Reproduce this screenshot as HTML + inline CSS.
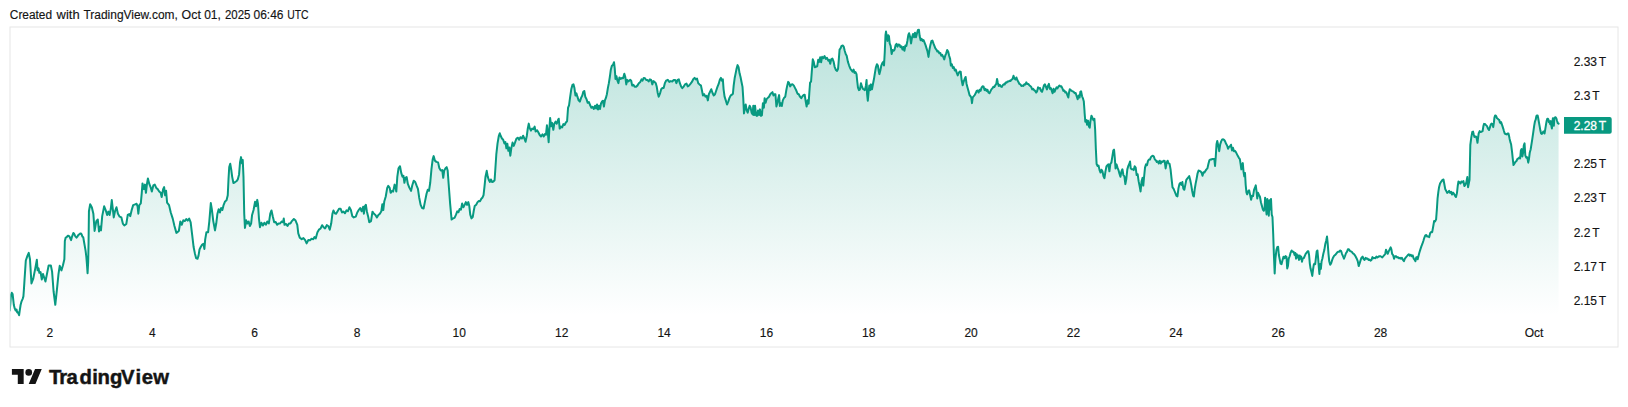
<!DOCTYPE html>
<html lang="en">
<head>
<meta charset="utf-8">
<title>TradingView Chart</title>
<style>
html,body{margin:0;padding:0;background:#fff;}
body{width:1628px;height:407px;overflow:hidden;position:relative;font-family:"Liberation Sans",Arial,sans-serif;}
svg{position:absolute;left:0;top:0;display:block}
.hdr{font-size:12px;fill:#141414;stroke:#141414;stroke-width:0.15px;}
.ax{font-size:12px;fill:#141414;stroke:#141414;stroke-width:0.15px;}
.badge{font-size:12px;fill:#fff;stroke:#fff;stroke-width:0.3px;}
.logo{font-size:20.3px;font-weight:700;fill:#141414;stroke:#141414;stroke-width:0.45px;}
</style>
</head>
<body>
<svg width="1628" height="407" viewBox="0 0 1628 407" font-family="Liberation Sans, Arial, sans-serif">
<defs>
<linearGradient id="g" gradientUnits="userSpaceOnUse" x1="0" y1="28" x2="0" y2="316">
<stop offset="0" stop-color="#089981" stop-opacity="0.28"/>
<stop offset="1" stop-color="#089981" stop-opacity="0"/>
</linearGradient>
<clipPath id="pane"><rect x="10.4" y="27.5" width="1600" height="289.5"/></clipPath>
</defs>
<rect x="0" y="0" width="1628" height="407" fill="#ffffff"/>
<text y="18.7" class="hdr"><tspan x="9.8" textLength="42.3" lengthAdjust="spacingAndGlyphs">Created</tspan> <tspan x="56.6" textLength="23" lengthAdjust="spacingAndGlyphs">with</tspan> <tspan x="83.5" textLength="94.3" lengthAdjust="spacingAndGlyphs">TradingView.com,</tspan> <tspan x="181.6" textLength="19.3" lengthAdjust="spacingAndGlyphs">Oct</tspan> <tspan x="204.2" textLength="16.7" lengthAdjust="spacingAndGlyphs">01,</tspan> <tspan x="225" textLength="25.5" lengthAdjust="spacingAndGlyphs">2025</tspan> <tspan x="253.5" textLength="30" lengthAdjust="spacingAndGlyphs">06:46</tspan> <tspan x="287.2" textLength="21.4" lengthAdjust="spacingAndGlyphs">UTC</tspan></text>
<rect x="10" y="27" width="1608" height="320" fill="none" stroke="#e6e6e6" stroke-width="1"/>
<g clip-path="url(#pane)">
<path d="M9.77 310.54 L10.39 302.92 L11 294.57 L11.74 292.76 L12.6 293.96 L13.21 299.48 L13.83 305.01 L14.81 308.7 L15.67 310.54 L16.53 309.47 L17.14 312.38 L17.88 312.17 L18.5 313.61 L19.11 315.21 L19.72 310.54 L20.58 305.01 L21.57 301.33 L22.67 298.87 L23.41 296.41 L23.9 289.66 L24.52 279.83 L25.8 260.54 L27.52 255.63 L28.75 252.83 L29.98 259.31 L31.45 283.39 L33.17 278.97 L35.14 269.14 L36.86 259.71 L37.59 270.37 L38.57 268.31 L39.31 272.83 L40.54 272 L41.77 279.46 L43 273.96 L44.23 277.74 L45.45 281.43 L47.17 272.83 L48.65 265.45 L50.86 265.45 L52.09 271.6 L53.56 291.25 L55.28 304.77 L57 288.8 L58.48 274.05 L59.71 265.85 L61.43 270.37 L62.9 265.45 L64.37 259.31 L64.84 240.97 L65.7 237.53 L66.68 237.04 L67.67 235.81 L68.53 235.84 L69.39 236.3 L70.37 238.51 L71.11 240.11 L71.84 237.29 L72.58 235.07 L73.32 233.02 L74.05 233.6 L74.91 235.44 L75.65 236.67 L76.51 237.65 L77.37 236.67 L78.23 235.07 L79.21 234.46 L80.2 233.6 L81.06 233.51 L81.79 234.83 L82.41 236.67 L83.27 237.29 L83.88 240.97 L84.74 245.88 L85.6 250.8 L86.34 256.94 L86.95 264.31 L87.57 273.16 L88.18 261.86 L88.55 243.43 L88.94 211.25 L90.17 204.28 L91.89 207.57 L93.37 213.71 L94.59 230.91 L96.31 221.08 L97.79 219.52 L99.02 231.4 L100.25 226.4 L100.98 230.42 L102.21 216.17 L104.18 206.25 L105.65 210.02 L107.13 214.94 L108.35 211.65 L109.58 214.94 L110.81 208.8 L111.79 200.11 L112.78 208.8 L113.76 217.4 L114.99 211.25 L116.46 207.23 L117.94 213.71 L119.66 216.66 L121.38 217.4 L122.85 223.54 L124.32 225.5 L126.29 224.03 L127.76 214.94 L129.24 214.11 L130.22 216.17 L131.7 210.02 L133.17 205.11 L135.14 204.37 L136.61 203.79 L137.59 206.34 L138.33 213.71 L139.31 205.11 L140.79 203.39 L141.77 192.83 L142.51 183.4 L143.73 189.14 L144.96 184.63 L145.95 192.83 L146.93 184.23 L147.91 178.48 L149.39 184.23 L150.86 187.91 L151.84 191.6 L153.32 185.45 L154.79 184.63 L156.27 187.91 L157.74 189.14 L159.21 191.6 L160.69 192.83 L161.67 197 L163.14 189.14 L164.13 187.08 L165.11 195.28 L166.09 190.77 L167.08 202.65 L169.04 205.11 L170.76 212.48 L172.73 218.62 L174.45 226 L176.41 232.87 L178.87 230.91 L180.34 221.48 L181.82 224.77 L183.29 220.25 L184.77 221.08 L186.24 219.02 L187.71 220.59 L189.19 218.53 L190.66 222.31 L192.14 234.59 L193.61 247.03 L194.84 253.17 L196.07 258.08 L197.54 258.82 L198.53 255.63 L199.51 249.48 L200.98 246.54 L202.21 244.57 L203.44 243.74 L204.42 248.99 L205.16 239.66 L206.39 232.29 L208.11 232.14 L209.34 221.08 L210.81 203.05 L211.79 208.8 L213.27 221.08 L214.99 230.42 L216.22 223.54 L217.44 213.71 L218.67 209.2 L219.9 212.48 L221.13 207.97 L222.36 210.02 L223.59 205.11 L225.06 201.43 L226.54 200.2 L227.76 195.28 L228.5 179.31 L229.24 167.03 L230.22 163.74 L231.2 169.48 L232.19 176.86 L233.42 183 L234.89 182.26 L236.36 181.28 L237.84 179.31 L239.07 174.4 L240.05 162.11 L241.03 157.11 L242.01 163.34 L242.75 160.06 L243.49 176.86 L244.23 213.71 L244.96 227.96 L246.19 220.25 L247.42 223.54 L248.65 221.48 L249.88 226 L251.11 223.54 L252.09 214.94 L253.56 210.02 L255.04 201.83 L256.02 206.34 L257.25 199.86 L257.99 203.88 L258.97 218.62 L259.95 227.22 L261.43 222.71 L262.9 225.5 L264.37 222.71 L265.85 224.77 L267.32 221.48 L268.8 223.54 L270.27 213.71 L271.5 210.42 L272.73 216.17 L274.2 222.31 L275.68 221.97 L277.15 224.77 L278.62 223.45 L280.1 223.54 L281.57 221.48 L283.05 222.31 L283.78 218.53 L284.52 224.77 L286 223.94 L287.47 226 L288.94 223.45 L290.42 223.54 L291.89 221.08 L293.86 219.02 L295.58 220.59 L297.3 224.77 L298.28 233.37 L299.75 237.69 L301.72 239.16 L303.44 238.09 L305.16 240.15 L306.63 243.34 L308.35 240.06 L310.07 240.15 L311.55 238.83 L313.27 239.16 L314.5 237.11 L315.72 238.43 L317.44 232.29 L318.92 229.68 L320.64 228.45 L322.11 225.17 L323.59 227.22 L325.06 228.45 L326.78 225.17 L328.26 226 L329.73 229.68 L331.2 223.54 L332.43 213.71 L333.42 210.42 L334.64 213.22 L336.12 213.71 L337.59 211.25 L339.07 208.8 L340.54 208.7 L342.01 212.48 L343.49 211.65 L344.96 213.22 L346.44 210.42 L347.91 211.25 L349.39 207.23 L350.86 210.02 L352.33 216.17 L353.81 217.4 L355.77 216.66 L357.25 212.48 L358.72 210.02 L360.2 207.97 L361.67 211.25 L363.14 206.74 L363.88 213.71 L364.86 206.34 L365.85 204.77 L366.83 211.25 L368.06 216.17 L369.29 222.31 L371.01 221.08 L372.48 211.65 L373.96 213.71 L375.43 214.94 L376.9 217.4 L378.38 214.94 L379.85 213.71 L381.33 211.25 L382.31 204.28 L383.29 210.02 L384.28 201.43 L385.75 196.51 L387.22 187.91 L388.21 185.85 L389.68 187.91 L390.66 192.83 L392.14 190.77 L393.12 191.6 L394.59 184.63 L395.58 187.91 L396.31 191.6 L397.3 176.86 L398.53 168.26 L400 166.2 L401.23 172.91 L402.46 176.6 L403.44 175.77 L404.42 182.74 L405.41 177.83 L406.63 177 L407.86 183.97 L409.34 187.65 L411.06 190.85 L412.29 185.2 L413.76 180.68 L415.23 182 L416.71 185.93 L417.94 188.88 L419.16 197.48 L420.64 204.85 L422.11 208.05 L423.59 208.54 L425.06 201.17 L426.54 193.8 L427.76 189.77 L428.99 190.85 L430.22 182.74 L431.45 169.23 L432.68 159.4 L433.66 156.11 L434.89 160.63 L436.36 161.86 L438.08 162.35 L439.31 168 L440.79 170.45 L442.26 170.12 L443.24 177.83 L444.23 170.45 L445.7 168 L446.68 167.17 L447.67 170.45 L448.65 183.97 L450.12 203.62 L451.6 219.59 L453.07 218.37 L454.55 217.87 L456.02 214.68 L457.25 211.4 L458.48 212.22 L459.71 208.94 L460.93 209.77 L462.16 203.53 L463.39 207.31 L464.62 204.85 L465.85 202.06 L467.08 204.85 L468.3 202.06 L469.29 206.08 L470.27 214.68 L471.5 218.37 L472.73 217.14 L473.71 211 L474.69 206.08 L476.17 204.85 L477.4 202.4 L478.62 201.08 L480.1 201.17 L481.33 198.71 L482.56 197.48 L483.54 195.02 L484.52 186.43 L485.5 176.6 L486.73 170.85 L487.71 176.6 L488.94 180.28 L489.93 182 L490.91 179.45 L492.14 182 L493.37 181.51 L494.59 180.28 L495.33 169.23 L496.31 154.48 L497.54 143.43 L498.77 136.06 L499.75 133.26 L500.74 136.06 L501.97 138.51 L503.19 139.74 L504.42 143.43 L505.41 142.11 L506.39 148.34 L507.37 143.83 L508.35 150.8 L509.34 147.51 L510.32 155.71 L511.3 148.34 L512.53 142.6 L513.76 145.88 L514.99 142.69 L516.46 138.51 L517.94 137.69 L519.16 139.74 L520.39 137.19 L521.87 138.51 L523.1 135.72 L524.32 138.51 L525.55 141.71 L526.78 136 L527.76 128.62 L528.75 123.62 L529.73 128.13 L530.96 130.59 L532.19 128.53 L533.42 129.12 L534.64 126.57 L535.63 131.57 L537.1 130.25 L538.33 132.31 L539.56 134.77 L541.03 136.49 L542.51 134.43 L543.73 136.49 L544.96 133.94 L545.95 134.77 L546.93 125.34 L547.91 133.54 L548.65 142.14 L549.39 128.62 L550.12 117.97 L551.11 126.17 L552.09 122.88 L553.32 129.85 L554.3 123.71 L555.53 121.65 L556.76 123.71 L557.99 120.02 L558.72 118.7 L559.71 128.62 L560.93 126.57 L562.16 127.4 L563.39 124.11 L564.62 124.94 L565.85 122.48 L567.08 121.25 L568.06 107.74 L569.04 105.28 L570.02 97.91 L571.25 89.31 L572.48 84.89 L573.46 84.31 L574.45 88.08 L575.43 95.45 L576.41 93.4 L577.4 96.68 L578.62 100.37 L579.85 101.6 L581.08 97.91 L582.31 95.45 L583.29 91.77 L584.28 90.94 L585.26 96.68 L586.49 99.14 L587.71 102.83 L588.94 102 L590.17 105.28 L591.4 107.74 L592.63 106.91 L593.86 108.97 L595.09 105.68 L596.07 108.48 L597.05 104.45 L598.03 109.46 L599.02 105.68 L600 108.97 L600.98 103.56 L601.97 101.6 L602.95 100.77 L603.93 106.51 L604.91 100.37 L605.9 97.91 L606.88 94.23 L607.86 88.08 L608.85 83.17 L609.83 77.03 L610.81 69.66 L611.79 65.97 L613.02 64.74 L614 62.19 L614.74 68.43 L615.48 78.99 L616.46 76.2 L617.44 80.71 L618.43 83.17 L619.41 77.43 L620.64 78.99 L621.87 77.92 L623.1 78.26 L624.32 73.74 L625.31 77.03 L626.29 84.4 L627.27 79.88 L628.26 81.45 L629.24 80.71 L630.22 79.88 L631.2 80.71 L632.19 85.63 L633.42 84.8 L634.64 86.86 L635.87 86.86 L637.35 85.63 L638.82 83.17 L640.29 81.94 L641.52 79.39 L642.51 80.71 L643.73 77.92 L644.96 78.26 L646.19 79.98 L647.42 79.88 L648.65 81.45 L649.88 79.39 L651.11 79.98 L652.33 84.4 L653.32 81.11 L654.55 81.94 L655.77 83.17 L656.76 86.86 L657.74 93 L658.72 96.68 L659.95 93.73 L661.18 89.31 L662.41 88.08 L663.64 88.08 L664.86 83.17 L666.09 80.71 L667.81 79.88 L669.29 81.94 L670.76 81.11 L672.24 81.45 L673.71 79.98 L675.18 79.88 L676.41 83.17 L677.64 79.98 L678.87 79.39 L679.85 83.17 L681.08 86.36 L682.31 88.08 L683.54 86.86 L685.01 84.4 L686.49 83.57 L687.71 86.36 L688.94 85.63 L690.42 83.91 L691.89 81.94 L693.37 78.99 L694.59 77.92 L695.82 79.48 L697.05 78.66 L698.28 83.17 L699.51 84.4 L700.98 85.63 L701.97 90.54 L702.95 95.45 L704.18 94.13 L705.41 96.68 L706.63 95.85 L707.86 100.37 L708.85 94.23 L710.07 91.77 L711.3 89.22 L712.53 93 L713.76 95.45 L714.99 94.23 L716.22 90.54 L717.44 86.86 L718.67 83.91 L719.9 79.48 L720.88 77.92 L721.87 80.71 L722.85 79.39 L723.59 89.31 L724.57 96.68 L725.8 100.37 L727.03 104.55 L728.26 101.6 L729.48 97.91 L730.71 95.45 L731.94 94.72 L732.92 93.73 L733.66 85.63 L734.64 78.26 L735.63 73.34 L736.61 68.43 L737.59 65.14 L738.57 67.2 L739.56 73.34 L740.54 77.03 L741.52 81.94 L742.51 86.86 L743.24 97.91 L743.98 113.39 L744.96 107.74 L745.7 104.45 L746.68 110.2 L747.67 112.65 L748.65 108.97 L749.63 105.68 L750.61 107.74 L751.6 112.65 L752.58 114.37 L753.32 105.68 L754.05 115.11 L755.04 105.68 L756.02 115.11 L757 115.85 L757.99 110.6 L758.97 115.11 L759.95 109.37 L760.93 115.85 L761.92 115.11 L762.9 103.23 L763.88 107.74 L764.62 98.31 L765.6 102.83 L766.58 99.14 L767.81 97.91 L769.04 96.68 L770.27 94.23 L771.5 93 L772.48 92.17 L773.46 95.45 L774.45 94.13 L775.43 94.23 L776.41 106.51 L777.4 102.83 L778.38 97.91 L779.12 95.12 L779.85 106.02 L780.84 103.23 L781.82 106.02 L782.8 100.37 L784.03 97.91 L785.26 96.68 L786.24 90.54 L787.22 85.63 L788.21 81.85 L789.19 83.17 L790.17 86.36 L791.4 84.4 L792.63 84.31 L793.86 85.63 L795.09 88.08 L796.31 90.54 L797.54 93.73 L798.77 94.23 L800 96.68 L801.23 98.22 L802.46 96.25 L803.69 95.02 L804.67 94.69 L805.65 101.17 L806.63 106.57 L807.62 100.34 L808.6 103.62 L809.34 92.57 L810.07 82.74 L811.06 81.51 L811.79 71.68 L812.78 59.31 L813.76 61.86 L814.74 67.26 L815.97 66.77 L817.2 66.28 L818.18 59.8 L819.16 61.86 L820.15 57.34 L821.13 62.35 L822.11 56.85 L823.34 58.17 L824.57 56.11 L825.8 58.91 L827.03 57.83 L828.26 60.63 L829.24 59.8 L830.22 63.82 L831.2 59.4 L832.43 58.57 L833.66 61.86 L834.64 66.77 L835.87 69.96 L837.1 70.95 L838.08 68.73 L838.82 59.4 L839.56 49.57 L840.54 48.34 L841.52 45.88 L842.75 45.55 L843.73 46.62 L844.72 50.8 L845.7 53.99 L846.68 55.71 L847.91 61.86 L849.14 65.54 L850.37 68.73 L851.6 70.45 L852.58 71.68 L853.56 69.63 L854.55 72.91 L855.53 72.08 L856.51 74.14 L857.25 81.51 L857.99 87.65 L858.97 90.11 L859.95 89.37 L860.93 83.14 L861.92 86.43 L862.9 88.88 L863.88 89.37 L864.86 90.11 L865.85 85.93 L866.58 79.95 L867.08 93.8 L867.81 100.68 L868.55 92.57 L869.29 85.6 L870.27 90.11 L871.01 84.37 L871.99 89.37 L872.97 83.97 L873.96 79.05 L874.94 72.91 L875.92 67.26 L876.9 64.22 L877.89 65.54 L878.62 70.45 L879.36 74.14 L880.34 70.45 L881.33 65.54 L882.31 63.08 L883.29 61.76 L884.03 65.54 L884.77 52.03 L885.5 34.83 L886 31.54 L886.73 36.06 L887.47 40.97 L888.21 35.23 L888.94 36.06 L889.68 43.43 L890.66 45.88 L891.65 53.99 L892.63 49.97 L893.61 50.8 L894.59 49.57 L895.58 45.15 L896.56 43.83 L897.54 46.62 L898.53 44.56 L899.51 44.66 L900.49 47.11 L901.47 46.28 L902.46 49.57 L903.44 47.02 L904.42 50.8 L905.41 45.55 L906.39 45.88 L907.37 40.97 L908.35 34.83 L909.09 33.26 L910.07 36.79 L911.06 43.43 L912.04 37.29 L913.02 34 L914 37.29 L914.99 32.77 L915.97 37.29 L916.95 33.6 L917.94 29.91 L918.92 29.82 L919.66 36.06 L920.64 40.23 L921.62 38.91 L922.6 40.97 L923.59 40.14 L924.57 42.69 L925.55 45.15 L926.54 48.34 L927.52 51.54 L928.5 56.94 L929.48 49.57 L930.47 44.66 L931.45 40.97 L932.43 40.63 L933.42 43.43 L934.4 45.88 L935.38 48.34 L936.36 49.57 L937.35 51.54 L938.33 51.2 L939.31 53.26 L940.29 52.92 L941.28 55.71 L942.26 54.88 L943.24 56.94 L944.23 59.4 L945.21 55.71 L946.19 53.26 L947.17 49.97 L948.16 51.54 L949.14 55.71 L950.12 58.91 L950.86 65.54 L951.84 64.22 L952.83 68 L953.81 67.17 L954.79 70.45 L955.77 69.63 L956.76 72.91 L957.74 75.37 L958.72 72.91 L959.71 71.59 L960.69 71.68 L961.67 80.28 L962.65 85.2 L963.64 81.51 L964.62 79.05 L965.6 77 L966.58 83.97 L967.57 87.65 L968.55 91.34 L969.53 95.02 L970.52 96.25 L971.25 97.48 L971.99 103.13 L972.73 97.48 L973.71 96.25 L974.69 95.02 L975.68 93.3 L976.66 90.85 L977.64 90.51 L978.62 92.57 L979.61 89.77 L980.59 90.85 L981.57 87.65 L982.56 86.33 L983.54 86.43 L984.52 90.11 L985.5 88.79 L986.49 90.85 L987.47 89.77 L988.45 92.57 L989.43 93.3 L990.42 91.34 L991.4 89.37 L992.38 88.39 L993.37 86.83 L994.35 86.92 L995.33 85.2 L996.31 83.97 L997.05 78.96 L997.79 82.74 L998.77 85.93 L999.75 84.86 L1000.74 86.43 L1001.72 86.92 L1002.7 85.2 L1003.69 84.37 L1004.67 84.46 L1005.65 82.4 L1006.63 82.74 L1007.62 81.42 L1008.6 81.51 L1009.58 80.68 L1010.57 81.02 L1011.55 79.55 L1012.53 79.05 L1013.51 75.77 L1014.5 78.56 L1015.48 79.55 L1016.46 77.49 L1017.44 80.28 L1018.43 82 L1019.41 83.97 L1020.39 84.46 L1021.38 85.93 L1022.36 85.6 L1023.34 85.93 L1024.32 84.37 L1025.31 84.46 L1026.29 82.4 L1027.27 83.97 L1028.26 83.88 L1029.24 85.2 L1030.22 85.93 L1031.2 86.92 L1032.19 89.37 L1033.17 88.79 L1034.15 90.11 L1035.14 90.85 L1036.12 92.57 L1037.1 91.34 L1038.08 87.32 L1039.07 88.39 L1040.05 88.05 L1041.03 90.85 L1042.01 91.83 L1043 88.88 L1043.98 85.2 L1044.96 84.37 L1045.95 86.92 L1046.93 89.37 L1047.91 85.93 L1048.89 83.88 L1049.88 88.88 L1050.86 88.05 L1051.84 90.85 L1052.58 93.3 L1053.56 88.79 L1054.55 91.83 L1055.53 89.37 L1056.51 87.32 L1057.49 88.39 L1058.48 86.43 L1059.46 85.6 L1060.44 86.43 L1061.43 86.33 L1062.41 88.39 L1063.39 90.85 L1064.37 90.51 L1065.36 92.57 L1066.34 92.23 L1067.32 95.02 L1068.3 97.48 L1069.04 92.57 L1069.78 89.28 L1070.76 90.11 L1071.74 90.85 L1072.73 91.34 L1073.71 91.83 L1074.69 93.3 L1075.68 92.97 L1076.66 96.25 L1077.64 99.2 L1078.62 95.42 L1079.61 97.48 L1080.34 91.83 L1081.08 91.25 L1082.06 96.25 L1083.05 98.71 L1083.78 101.17 L1084.52 111 L1084.57 112.37 L1085.31 121.71 L1086.29 120.14 L1087.03 124.66 L1088.01 120.63 L1088.99 126.62 L1089.73 127.6 L1090.47 120.97 L1091.45 115.72 L1092.43 117.78 L1093.42 120.23 L1094.4 118.91 L1095.14 129.57 L1095.87 149.23 L1096.61 163.97 L1097.59 165.93 L1098.57 165.6 L1099.56 170.11 L1100.54 172.57 L1101.52 169.77 L1102.51 171.34 L1103.49 176.25 L1104.47 178.22 L1105.45 171.34 L1106.44 166.43 L1107.42 165.2 L1108.4 164.37 L1109.39 171.34 L1110.37 163.97 L1111.35 162.74 L1112.33 156.6 L1113.32 150.45 L1114.05 149.63 L1114.79 157.83 L1115.53 168.39 L1116.51 164.37 L1117.49 167.65 L1118.48 170.11 L1119.46 173.8 L1120.44 176.74 L1121.43 171.34 L1122.41 169.28 L1123.39 175.02 L1124.37 176.25 L1125.36 184.12 L1126.34 178.71 L1127.32 169.37 L1128.3 165.93 L1129.29 163.97 L1130.02 161.42 L1130.76 168.39 L1131.74 169.37 L1132.73 169.28 L1133.71 170.11 L1134.69 166.33 L1135.68 167.65 L1136.66 175.02 L1137.64 174.2 L1138.62 181.17 L1139.61 186.08 L1140.59 191.49 L1141.57 181.17 L1142.56 177.88 L1143.29 185.59 L1144.03 177.48 L1145.01 167.65 L1146 164.37 L1146.98 165.2 L1147.96 161.02 L1148.94 159.45 L1149.93 159.55 L1150.91 157.09 L1151.89 156.11 L1152.87 155.77 L1153.86 156.6 L1154.84 159.55 L1155.82 160.28 L1156.81 162 L1157.79 161.42 L1158.77 163.48 L1159.75 160.68 L1160.74 163.48 L1161.72 161.42 L1162.7 162 L1163.69 160.68 L1164.67 161.02 L1165.65 168.39 L1166.63 162.74 L1167.62 160.68 L1168.6 163.48 L1169.58 163.97 L1170.57 169.37 L1171.55 178.71 L1172.53 187.31 L1173.51 188.54 L1174.5 191 L1175.48 193.45 L1176.46 195.91 L1177.44 196.4 L1178.43 188.54 L1179.41 184.12 L1180.39 182.8 L1181.38 184.85 L1182.36 182.06 L1183.34 188.54 L1184.32 189.77 L1185.31 184.85 L1186.29 179.94 L1187.27 178.71 L1188.26 177.48 L1189.24 176.16 L1190.22 179.94 L1191.2 184.85 L1192.19 191 L1193.17 195.91 L1193.91 196.4 L1194.64 189.77 L1195.63 183.62 L1196.61 178.71 L1197.59 173.3 L1198.57 170.51 L1199.56 170.85 L1200.54 171.34 L1201.52 172.57 L1202.51 175.76 L1203.49 172.23 L1204.47 172.57 L1205.45 170.85 L1206.44 169.37 L1207.42 168.39 L1208.4 163.97 L1209.39 160.28 L1210.37 159.45 L1211.35 159.55 L1212.33 158.96 L1213.32 159.05 L1214.3 158.96 L1215.04 165.93 L1215.77 156.6 L1216.51 144.31 L1217.25 141.03 L1218.23 145.54 L1219.21 151.19 L1220.2 144.31 L1221.18 141.36 L1222.16 139.4 L1223.14 139.31 L1224.13 139.89 L1225.11 141.36 L1226.09 143.82 L1227.08 145.54 L1228.06 148.73 L1229.04 146.77 L1230.02 146.28 L1231.01 144.71 L1231.99 150.45 L1232.97 147.66 L1233.96 151.19 L1234.94 150.85 L1235.92 152.17 L1236.9 154.14 L1237.89 156.11 L1238.87 157.83 L1239.85 159.05 L1240.59 163.97 L1241.33 169.37 L1242.06 165.2 L1242.8 163.14 L1243.54 171.83 L1244.28 176.25 L1245.01 172.97 L1245.69 185 L1246.43 192.37 L1247.16 194.34 L1248.15 191.14 L1249.13 190.31 L1250.11 194.83 L1251.1 199.74 L1252.08 195.72 L1253.06 196.06 L1254.04 189.91 L1255.03 187.46 L1255.76 185.4 L1256.5 191.14 L1257.24 198.51 L1257.98 192.77 L1258.96 194.83 L1259.94 196.79 L1260.92 202.2 L1261.91 205.88 L1262.89 209.57 L1263.87 210.8 L1264.61 208.34 L1265.1 197.69 L1265.84 207.11 L1266.57 214.48 L1267.31 198.91 L1268.05 203.43 L1268.79 215.71 L1269.52 200.14 L1270.26 209.57 L1271 198.91 L1271.73 214.48 L1272.47 216.94 L1273.21 234.14 L1273.95 256.25 L1274.68 273.45 L1275.42 258.71 L1276.4 250.11 L1277.39 246.92 L1278.12 246.83 L1278.86 255.02 L1279.6 258.71 L1280.58 263.62 L1281.56 264.12 L1282.55 259.94 L1283.53 256.65 L1284.51 258.22 L1285.49 256.16 L1286.48 256.74 L1287.21 268.54 L1287.95 266.08 L1288.69 258.71 L1289.67 256.25 L1290.65 252.57 L1291.64 250.51 L1292.62 251.83 L1293.6 251.74 L1294.58 255.02 L1295.32 252.97 L1296.06 258.71 L1296.8 254.2 L1297.53 257.48 L1298.27 255.42 L1299.01 259.94 L1299.74 255.42 L1300.48 258.71 L1301.22 256.65 L1301.96 261.66 L1302.69 258.71 L1303.68 258.22 L1304.66 256.25 L1305.64 253.8 L1306.62 252.57 L1307.61 251.34 L1308.34 251.25 L1309.08 255.02 L1309.82 263.62 L1310.56 268.54 L1311.54 272.22 L1312.28 275.91 L1313.01 269.77 L1313.75 264.85 L1314.49 263.53 L1315.22 264.12 L1315.96 257.48 L1316.7 251.34 L1317.43 250.51 L1318.17 258.71 L1318.91 268.54 L1319.4 273.94 L1320.14 264.02 L1320.87 269.03 L1321.61 261.17 L1322.35 258.71 L1323.33 253.8 L1324.31 250.11 L1325.3 243.97 L1326.28 240.28 L1327.02 236.51 L1327.75 243.97 L1328.49 253.8 L1329.23 261.17 L1330.21 264.85 L1331.19 263.13 L1332.18 259.94 L1333.16 257.48 L1334.14 255.76 L1335.13 255.02 L1336.11 253.8 L1337.09 252.57 L1338.07 251.74 L1339.06 251.83 L1340.04 250.51 L1341.02 250.85 L1342 253.8 L1342.99 256.25 L1343.97 258.71 L1344.95 256.25 L1345.94 253.3 L1346.92 251.83 L1347.9 249.37 L1348.88 249.28 L1349.87 250.85 L1350.85 251.34 L1351.83 251.83 L1352.82 253.3 L1353.8 253.8 L1354.78 255.02 L1355.76 256.74 L1356.75 258.71 L1357.73 261.17 L1358.71 266.08 L1359.7 263.13 L1360.68 259.94 L1361.66 257.48 L1362.64 256.65 L1363.63 259.2 L1364.61 259.94 L1365.59 257.88 L1366.57 258.71 L1367.56 258.62 L1368.54 259.94 L1369.52 259.6 L1370.51 260.68 L1371.49 259.94 L1372.47 257.14 L1373.45 258.22 L1374.44 257.88 L1375.42 258.22 L1376.4 256.65 L1377.39 257.48 L1378.37 256.74 L1379.35 256.25 L1380.33 256.16 L1381.32 256.74 L1382.3 257.48 L1383.28 256.25 L1384.27 255.02 L1385.25 253.8 L1385.99 249.77 L1386.72 251.34 L1387.71 253.8 L1388.69 251.34 L1389.67 249.37 L1390.65 247.32 L1391.39 249.37 L1392.13 253.8 L1393.11 255.02 L1394.09 258.71 L1395.08 256.25 L1396.06 256.16 L1397.04 257.48 L1398.02 257.14 L1399.01 258.22 L1399.99 257.88 L1400.97 258.71 L1401.96 257.88 L1402.94 259.94 L1403.92 261.17 L1404.9 258.71 L1405.89 257.48 L1406.87 256.25 L1407.85 255.02 L1408.84 254.2 L1409.82 255.76 L1410.8 254.69 L1411.78 256.25 L1412.77 255.42 L1413.75 258.71 L1414.73 259.94 L1415.47 261.17 L1416.21 257.48 L1416.94 257.14 L1417.68 259.2 L1418.42 256.25 L1419.4 252.57 L1420.38 249.37 L1421.37 246.43 L1422.35 243.97 L1423.33 241.02 L1424.31 237.83 L1425.3 235.37 L1426.28 235.03 L1427.26 236.6 L1428.25 236.51 L1429.23 237.09 L1430.21 232.91 L1431.19 232.08 L1432.18 232.17 L1433.16 226.77 L1434.14 221.03 L1435.13 221.36 L1436.11 219.4 L1436.85 209.57 L1437.58 198.28 L1438.32 192.14 L1439.06 187.22 L1440.04 183.54 L1441.27 181.57 L1442.5 179.85 L1443.48 179.52 L1444.22 183.54 L1445.2 188.94 L1446.18 190.91 L1447.16 192.87 L1448.15 192.14 L1449.13 190.82 L1450.11 192.87 L1451.1 191.8 L1452.08 194.59 L1453.06 192.54 L1454.04 193.86 L1455.03 195.82 L1456.01 197.05 L1456.99 192.87 L1457.73 186 L1458.47 181.48 L1459.45 182.31 L1460.43 183.54 L1461.42 181.48 L1462.4 182.31 L1463.38 180.99 L1464.36 186 L1465.35 184.77 L1466.33 182.31 L1467.31 177.06 L1468.05 187.22 L1468.79 183.54 L1469.52 179.85 L1470.32 145 L1471.3 137.43 L1472.29 131.93 L1473.07 131.64 L1473.76 134.48 L1474.45 136.94 L1475.53 136.45 L1476.22 136.65 L1476.9 139.4 L1477.49 142.84 L1477.99 138.42 L1478.67 133.5 L1479.66 131.15 L1480.64 132.03 L1481.62 131.54 L1482.6 131.04 L1483.39 126.13 L1484.08 123.87 L1485.06 124.07 L1486.04 125.15 L1487.03 126.13 L1488.01 128.59 L1488.99 130.06 L1489.98 127.11 L1490.96 124.16 L1491.65 123.58 L1492.43 123.87 L1493.22 127.11 L1493.91 122.69 L1494.4 117.78 L1495.09 115.42 L1495.68 115.42 L1496.36 116.6 L1497.05 118.27 L1497.84 118.76 L1498.62 119.74 L1499.31 119.94 L1499.8 122.2 L1500.49 123.18 L1501.08 122.11 L1501.77 124.16 L1502.46 126.13 L1503.24 128.59 L1503.93 131.04 L1504.72 133.5 L1505.7 133.99 L1506.68 134.48 L1507.67 133.5 L1508.45 133.41 L1508.94 135.47 L1509.63 138.91 L1510.32 141.86 L1511.11 144.31 L1512.03 151.6 L1512.77 158.97 L1513.5 165.11 L1514.49 163.39 L1515.47 161.92 L1516.45 160.93 L1517.43 158.97 L1518.42 158.48 L1519.4 157.4 L1520.14 158.48 L1520.87 150.37 L1521.61 149.05 L1522.35 156.51 L1523.09 152.83 L1523.82 145.45 L1524.56 143.4 L1525.3 155.28 L1526.28 157.74 L1527.26 157.4 L1528.25 162.65 L1528.98 158.97 L1529.72 152.83 L1530.7 149.14 L1532.24 139.4 L1533.22 132.52 L1534.2 125.64 L1534.89 121.71 L1535.68 119.74 L1536.36 116.2 L1536.95 115.42 L1537.64 115.42 L1538.13 117.78 L1538.82 121.71 L1539.61 126.13 L1540.39 130.55 L1541.08 133.5 L1541.87 133.99 L1542.56 133.01 L1543.34 131.54 L1544.03 131.44 L1544.52 133.5 L1545.21 129.57 L1546 124.66 L1546.68 120.72 L1547.27 118.66 L1547.96 118.67 L1548.45 119.74 L1548.94 122.2 L1549.63 121.62 L1550.22 124.16 L1550.91 121.12 L1551.4 126.13 L1551.89 128.59 L1552.38 123.18 L1552.87 118.27 L1553.37 119.74 L1553.86 125.64 L1554.35 118.17 L1555.04 117.29 L1555.63 117.29 L1556.31 118.27 L1557 120.72 L1557.79 123.18 L1558.57 123.67 L1558.57 316.5 L9.77 316.5 Z" fill="url(#g)" stroke="none"/>
<path d="M9.77 310.54 L10.39 302.92 L11 294.57 L11.74 292.76 L12.6 293.96 L13.21 299.48 L13.83 305.01 L14.81 308.7 L15.67 310.54 L16.53 309.47 L17.14 312.38 L17.88 312.17 L18.5 313.61 L19.11 315.21 L19.72 310.54 L20.58 305.01 L21.57 301.33 L22.67 298.87 L23.41 296.41 L23.9 289.66 L24.52 279.83 L25.8 260.54 L27.52 255.63 L28.75 252.83 L29.98 259.31 L31.45 283.39 L33.17 278.97 L35.14 269.14 L36.86 259.71 L37.59 270.37 L38.57 268.31 L39.31 272.83 L40.54 272 L41.77 279.46 L43 273.96 L44.23 277.74 L45.45 281.43 L47.17 272.83 L48.65 265.45 L50.86 265.45 L52.09 271.6 L53.56 291.25 L55.28 304.77 L57 288.8 L58.48 274.05 L59.71 265.85 L61.43 270.37 L62.9 265.45 L64.37 259.31 L64.84 240.97 L65.7 237.53 L66.68 237.04 L67.67 235.81 L68.53 235.84 L69.39 236.3 L70.37 238.51 L71.11 240.11 L71.84 237.29 L72.58 235.07 L73.32 233.02 L74.05 233.6 L74.91 235.44 L75.65 236.67 L76.51 237.65 L77.37 236.67 L78.23 235.07 L79.21 234.46 L80.2 233.6 L81.06 233.51 L81.79 234.83 L82.41 236.67 L83.27 237.29 L83.88 240.97 L84.74 245.88 L85.6 250.8 L86.34 256.94 L86.95 264.31 L87.57 273.16 L88.18 261.86 L88.55 243.43 L88.94 211.25 L90.17 204.28 L91.89 207.57 L93.37 213.71 L94.59 230.91 L96.31 221.08 L97.79 219.52 L99.02 231.4 L100.25 226.4 L100.98 230.42 L102.21 216.17 L104.18 206.25 L105.65 210.02 L107.13 214.94 L108.35 211.65 L109.58 214.94 L110.81 208.8 L111.79 200.11 L112.78 208.8 L113.76 217.4 L114.99 211.25 L116.46 207.23 L117.94 213.71 L119.66 216.66 L121.38 217.4 L122.85 223.54 L124.32 225.5 L126.29 224.03 L127.76 214.94 L129.24 214.11 L130.22 216.17 L131.7 210.02 L133.17 205.11 L135.14 204.37 L136.61 203.79 L137.59 206.34 L138.33 213.71 L139.31 205.11 L140.79 203.39 L141.77 192.83 L142.51 183.4 L143.73 189.14 L144.96 184.63 L145.95 192.83 L146.93 184.23 L147.91 178.48 L149.39 184.23 L150.86 187.91 L151.84 191.6 L153.32 185.45 L154.79 184.63 L156.27 187.91 L157.74 189.14 L159.21 191.6 L160.69 192.83 L161.67 197 L163.14 189.14 L164.13 187.08 L165.11 195.28 L166.09 190.77 L167.08 202.65 L169.04 205.11 L170.76 212.48 L172.73 218.62 L174.45 226 L176.41 232.87 L178.87 230.91 L180.34 221.48 L181.82 224.77 L183.29 220.25 L184.77 221.08 L186.24 219.02 L187.71 220.59 L189.19 218.53 L190.66 222.31 L192.14 234.59 L193.61 247.03 L194.84 253.17 L196.07 258.08 L197.54 258.82 L198.53 255.63 L199.51 249.48 L200.98 246.54 L202.21 244.57 L203.44 243.74 L204.42 248.99 L205.16 239.66 L206.39 232.29 L208.11 232.14 L209.34 221.08 L210.81 203.05 L211.79 208.8 L213.27 221.08 L214.99 230.42 L216.22 223.54 L217.44 213.71 L218.67 209.2 L219.9 212.48 L221.13 207.97 L222.36 210.02 L223.59 205.11 L225.06 201.43 L226.54 200.2 L227.76 195.28 L228.5 179.31 L229.24 167.03 L230.22 163.74 L231.2 169.48 L232.19 176.86 L233.42 183 L234.89 182.26 L236.36 181.28 L237.84 179.31 L239.07 174.4 L240.05 162.11 L241.03 157.11 L242.01 163.34 L242.75 160.06 L243.49 176.86 L244.23 213.71 L244.96 227.96 L246.19 220.25 L247.42 223.54 L248.65 221.48 L249.88 226 L251.11 223.54 L252.09 214.94 L253.56 210.02 L255.04 201.83 L256.02 206.34 L257.25 199.86 L257.99 203.88 L258.97 218.62 L259.95 227.22 L261.43 222.71 L262.9 225.5 L264.37 222.71 L265.85 224.77 L267.32 221.48 L268.8 223.54 L270.27 213.71 L271.5 210.42 L272.73 216.17 L274.2 222.31 L275.68 221.97 L277.15 224.77 L278.62 223.45 L280.1 223.54 L281.57 221.48 L283.05 222.31 L283.78 218.53 L284.52 224.77 L286 223.94 L287.47 226 L288.94 223.45 L290.42 223.54 L291.89 221.08 L293.86 219.02 L295.58 220.59 L297.3 224.77 L298.28 233.37 L299.75 237.69 L301.72 239.16 L303.44 238.09 L305.16 240.15 L306.63 243.34 L308.35 240.06 L310.07 240.15 L311.55 238.83 L313.27 239.16 L314.5 237.11 L315.72 238.43 L317.44 232.29 L318.92 229.68 L320.64 228.45 L322.11 225.17 L323.59 227.22 L325.06 228.45 L326.78 225.17 L328.26 226 L329.73 229.68 L331.2 223.54 L332.43 213.71 L333.42 210.42 L334.64 213.22 L336.12 213.71 L337.59 211.25 L339.07 208.8 L340.54 208.7 L342.01 212.48 L343.49 211.65 L344.96 213.22 L346.44 210.42 L347.91 211.25 L349.39 207.23 L350.86 210.02 L352.33 216.17 L353.81 217.4 L355.77 216.66 L357.25 212.48 L358.72 210.02 L360.2 207.97 L361.67 211.25 L363.14 206.74 L363.88 213.71 L364.86 206.34 L365.85 204.77 L366.83 211.25 L368.06 216.17 L369.29 222.31 L371.01 221.08 L372.48 211.65 L373.96 213.71 L375.43 214.94 L376.9 217.4 L378.38 214.94 L379.85 213.71 L381.33 211.25 L382.31 204.28 L383.29 210.02 L384.28 201.43 L385.75 196.51 L387.22 187.91 L388.21 185.85 L389.68 187.91 L390.66 192.83 L392.14 190.77 L393.12 191.6 L394.59 184.63 L395.58 187.91 L396.31 191.6 L397.3 176.86 L398.53 168.26 L400 166.2 L401.23 172.91 L402.46 176.6 L403.44 175.77 L404.42 182.74 L405.41 177.83 L406.63 177 L407.86 183.97 L409.34 187.65 L411.06 190.85 L412.29 185.2 L413.76 180.68 L415.23 182 L416.71 185.93 L417.94 188.88 L419.16 197.48 L420.64 204.85 L422.11 208.05 L423.59 208.54 L425.06 201.17 L426.54 193.8 L427.76 189.77 L428.99 190.85 L430.22 182.74 L431.45 169.23 L432.68 159.4 L433.66 156.11 L434.89 160.63 L436.36 161.86 L438.08 162.35 L439.31 168 L440.79 170.45 L442.26 170.12 L443.24 177.83 L444.23 170.45 L445.7 168 L446.68 167.17 L447.67 170.45 L448.65 183.97 L450.12 203.62 L451.6 219.59 L453.07 218.37 L454.55 217.87 L456.02 214.68 L457.25 211.4 L458.48 212.22 L459.71 208.94 L460.93 209.77 L462.16 203.53 L463.39 207.31 L464.62 204.85 L465.85 202.06 L467.08 204.85 L468.3 202.06 L469.29 206.08 L470.27 214.68 L471.5 218.37 L472.73 217.14 L473.71 211 L474.69 206.08 L476.17 204.85 L477.4 202.4 L478.62 201.08 L480.1 201.17 L481.33 198.71 L482.56 197.48 L483.54 195.02 L484.52 186.43 L485.5 176.6 L486.73 170.85 L487.71 176.6 L488.94 180.28 L489.93 182 L490.91 179.45 L492.14 182 L493.37 181.51 L494.59 180.28 L495.33 169.23 L496.31 154.48 L497.54 143.43 L498.77 136.06 L499.75 133.26 L500.74 136.06 L501.97 138.51 L503.19 139.74 L504.42 143.43 L505.41 142.11 L506.39 148.34 L507.37 143.83 L508.35 150.8 L509.34 147.51 L510.32 155.71 L511.3 148.34 L512.53 142.6 L513.76 145.88 L514.99 142.69 L516.46 138.51 L517.94 137.69 L519.16 139.74 L520.39 137.19 L521.87 138.51 L523.1 135.72 L524.32 138.51 L525.55 141.71 L526.78 136 L527.76 128.62 L528.75 123.62 L529.73 128.13 L530.96 130.59 L532.19 128.53 L533.42 129.12 L534.64 126.57 L535.63 131.57 L537.1 130.25 L538.33 132.31 L539.56 134.77 L541.03 136.49 L542.51 134.43 L543.73 136.49 L544.96 133.94 L545.95 134.77 L546.93 125.34 L547.91 133.54 L548.65 142.14 L549.39 128.62 L550.12 117.97 L551.11 126.17 L552.09 122.88 L553.32 129.85 L554.3 123.71 L555.53 121.65 L556.76 123.71 L557.99 120.02 L558.72 118.7 L559.71 128.62 L560.93 126.57 L562.16 127.4 L563.39 124.11 L564.62 124.94 L565.85 122.48 L567.08 121.25 L568.06 107.74 L569.04 105.28 L570.02 97.91 L571.25 89.31 L572.48 84.89 L573.46 84.31 L574.45 88.08 L575.43 95.45 L576.41 93.4 L577.4 96.68 L578.62 100.37 L579.85 101.6 L581.08 97.91 L582.31 95.45 L583.29 91.77 L584.28 90.94 L585.26 96.68 L586.49 99.14 L587.71 102.83 L588.94 102 L590.17 105.28 L591.4 107.74 L592.63 106.91 L593.86 108.97 L595.09 105.68 L596.07 108.48 L597.05 104.45 L598.03 109.46 L599.02 105.68 L600 108.97 L600.98 103.56 L601.97 101.6 L602.95 100.77 L603.93 106.51 L604.91 100.37 L605.9 97.91 L606.88 94.23 L607.86 88.08 L608.85 83.17 L609.83 77.03 L610.81 69.66 L611.79 65.97 L613.02 64.74 L614 62.19 L614.74 68.43 L615.48 78.99 L616.46 76.2 L617.44 80.71 L618.43 83.17 L619.41 77.43 L620.64 78.99 L621.87 77.92 L623.1 78.26 L624.32 73.74 L625.31 77.03 L626.29 84.4 L627.27 79.88 L628.26 81.45 L629.24 80.71 L630.22 79.88 L631.2 80.71 L632.19 85.63 L633.42 84.8 L634.64 86.86 L635.87 86.86 L637.35 85.63 L638.82 83.17 L640.29 81.94 L641.52 79.39 L642.51 80.71 L643.73 77.92 L644.96 78.26 L646.19 79.98 L647.42 79.88 L648.65 81.45 L649.88 79.39 L651.11 79.98 L652.33 84.4 L653.32 81.11 L654.55 81.94 L655.77 83.17 L656.76 86.86 L657.74 93 L658.72 96.68 L659.95 93.73 L661.18 89.31 L662.41 88.08 L663.64 88.08 L664.86 83.17 L666.09 80.71 L667.81 79.88 L669.29 81.94 L670.76 81.11 L672.24 81.45 L673.71 79.98 L675.18 79.88 L676.41 83.17 L677.64 79.98 L678.87 79.39 L679.85 83.17 L681.08 86.36 L682.31 88.08 L683.54 86.86 L685.01 84.4 L686.49 83.57 L687.71 86.36 L688.94 85.63 L690.42 83.91 L691.89 81.94 L693.37 78.99 L694.59 77.92 L695.82 79.48 L697.05 78.66 L698.28 83.17 L699.51 84.4 L700.98 85.63 L701.97 90.54 L702.95 95.45 L704.18 94.13 L705.41 96.68 L706.63 95.85 L707.86 100.37 L708.85 94.23 L710.07 91.77 L711.3 89.22 L712.53 93 L713.76 95.45 L714.99 94.23 L716.22 90.54 L717.44 86.86 L718.67 83.91 L719.9 79.48 L720.88 77.92 L721.87 80.71 L722.85 79.39 L723.59 89.31 L724.57 96.68 L725.8 100.37 L727.03 104.55 L728.26 101.6 L729.48 97.91 L730.71 95.45 L731.94 94.72 L732.92 93.73 L733.66 85.63 L734.64 78.26 L735.63 73.34 L736.61 68.43 L737.59 65.14 L738.57 67.2 L739.56 73.34 L740.54 77.03 L741.52 81.94 L742.51 86.86 L743.24 97.91 L743.98 113.39 L744.96 107.74 L745.7 104.45 L746.68 110.2 L747.67 112.65 L748.65 108.97 L749.63 105.68 L750.61 107.74 L751.6 112.65 L752.58 114.37 L753.32 105.68 L754.05 115.11 L755.04 105.68 L756.02 115.11 L757 115.85 L757.99 110.6 L758.97 115.11 L759.95 109.37 L760.93 115.85 L761.92 115.11 L762.9 103.23 L763.88 107.74 L764.62 98.31 L765.6 102.83 L766.58 99.14 L767.81 97.91 L769.04 96.68 L770.27 94.23 L771.5 93 L772.48 92.17 L773.46 95.45 L774.45 94.13 L775.43 94.23 L776.41 106.51 L777.4 102.83 L778.38 97.91 L779.12 95.12 L779.85 106.02 L780.84 103.23 L781.82 106.02 L782.8 100.37 L784.03 97.91 L785.26 96.68 L786.24 90.54 L787.22 85.63 L788.21 81.85 L789.19 83.17 L790.17 86.36 L791.4 84.4 L792.63 84.31 L793.86 85.63 L795.09 88.08 L796.31 90.54 L797.54 93.73 L798.77 94.23 L800 96.68 L801.23 98.22 L802.46 96.25 L803.69 95.02 L804.67 94.69 L805.65 101.17 L806.63 106.57 L807.62 100.34 L808.6 103.62 L809.34 92.57 L810.07 82.74 L811.06 81.51 L811.79 71.68 L812.78 59.31 L813.76 61.86 L814.74 67.26 L815.97 66.77 L817.2 66.28 L818.18 59.8 L819.16 61.86 L820.15 57.34 L821.13 62.35 L822.11 56.85 L823.34 58.17 L824.57 56.11 L825.8 58.91 L827.03 57.83 L828.26 60.63 L829.24 59.8 L830.22 63.82 L831.2 59.4 L832.43 58.57 L833.66 61.86 L834.64 66.77 L835.87 69.96 L837.1 70.95 L838.08 68.73 L838.82 59.4 L839.56 49.57 L840.54 48.34 L841.52 45.88 L842.75 45.55 L843.73 46.62 L844.72 50.8 L845.7 53.99 L846.68 55.71 L847.91 61.86 L849.14 65.54 L850.37 68.73 L851.6 70.45 L852.58 71.68 L853.56 69.63 L854.55 72.91 L855.53 72.08 L856.51 74.14 L857.25 81.51 L857.99 87.65 L858.97 90.11 L859.95 89.37 L860.93 83.14 L861.92 86.43 L862.9 88.88 L863.88 89.37 L864.86 90.11 L865.85 85.93 L866.58 79.95 L867.08 93.8 L867.81 100.68 L868.55 92.57 L869.29 85.6 L870.27 90.11 L871.01 84.37 L871.99 89.37 L872.97 83.97 L873.96 79.05 L874.94 72.91 L875.92 67.26 L876.9 64.22 L877.89 65.54 L878.62 70.45 L879.36 74.14 L880.34 70.45 L881.33 65.54 L882.31 63.08 L883.29 61.76 L884.03 65.54 L884.77 52.03 L885.5 34.83 L886 31.54 L886.73 36.06 L887.47 40.97 L888.21 35.23 L888.94 36.06 L889.68 43.43 L890.66 45.88 L891.65 53.99 L892.63 49.97 L893.61 50.8 L894.59 49.57 L895.58 45.15 L896.56 43.83 L897.54 46.62 L898.53 44.56 L899.51 44.66 L900.49 47.11 L901.47 46.28 L902.46 49.57 L903.44 47.02 L904.42 50.8 L905.41 45.55 L906.39 45.88 L907.37 40.97 L908.35 34.83 L909.09 33.26 L910.07 36.79 L911.06 43.43 L912.04 37.29 L913.02 34 L914 37.29 L914.99 32.77 L915.97 37.29 L916.95 33.6 L917.94 29.91 L918.92 29.82 L919.66 36.06 L920.64 40.23 L921.62 38.91 L922.6 40.97 L923.59 40.14 L924.57 42.69 L925.55 45.15 L926.54 48.34 L927.52 51.54 L928.5 56.94 L929.48 49.57 L930.47 44.66 L931.45 40.97 L932.43 40.63 L933.42 43.43 L934.4 45.88 L935.38 48.34 L936.36 49.57 L937.35 51.54 L938.33 51.2 L939.31 53.26 L940.29 52.92 L941.28 55.71 L942.26 54.88 L943.24 56.94 L944.23 59.4 L945.21 55.71 L946.19 53.26 L947.17 49.97 L948.16 51.54 L949.14 55.71 L950.12 58.91 L950.86 65.54 L951.84 64.22 L952.83 68 L953.81 67.17 L954.79 70.45 L955.77 69.63 L956.76 72.91 L957.74 75.37 L958.72 72.91 L959.71 71.59 L960.69 71.68 L961.67 80.28 L962.65 85.2 L963.64 81.51 L964.62 79.05 L965.6 77 L966.58 83.97 L967.57 87.65 L968.55 91.34 L969.53 95.02 L970.52 96.25 L971.25 97.48 L971.99 103.13 L972.73 97.48 L973.71 96.25 L974.69 95.02 L975.68 93.3 L976.66 90.85 L977.64 90.51 L978.62 92.57 L979.61 89.77 L980.59 90.85 L981.57 87.65 L982.56 86.33 L983.54 86.43 L984.52 90.11 L985.5 88.79 L986.49 90.85 L987.47 89.77 L988.45 92.57 L989.43 93.3 L990.42 91.34 L991.4 89.37 L992.38 88.39 L993.37 86.83 L994.35 86.92 L995.33 85.2 L996.31 83.97 L997.05 78.96 L997.79 82.74 L998.77 85.93 L999.75 84.86 L1000.74 86.43 L1001.72 86.92 L1002.7 85.2 L1003.69 84.37 L1004.67 84.46 L1005.65 82.4 L1006.63 82.74 L1007.62 81.42 L1008.6 81.51 L1009.58 80.68 L1010.57 81.02 L1011.55 79.55 L1012.53 79.05 L1013.51 75.77 L1014.5 78.56 L1015.48 79.55 L1016.46 77.49 L1017.44 80.28 L1018.43 82 L1019.41 83.97 L1020.39 84.46 L1021.38 85.93 L1022.36 85.6 L1023.34 85.93 L1024.32 84.37 L1025.31 84.46 L1026.29 82.4 L1027.27 83.97 L1028.26 83.88 L1029.24 85.2 L1030.22 85.93 L1031.2 86.92 L1032.19 89.37 L1033.17 88.79 L1034.15 90.11 L1035.14 90.85 L1036.12 92.57 L1037.1 91.34 L1038.08 87.32 L1039.07 88.39 L1040.05 88.05 L1041.03 90.85 L1042.01 91.83 L1043 88.88 L1043.98 85.2 L1044.96 84.37 L1045.95 86.92 L1046.93 89.37 L1047.91 85.93 L1048.89 83.88 L1049.88 88.88 L1050.86 88.05 L1051.84 90.85 L1052.58 93.3 L1053.56 88.79 L1054.55 91.83 L1055.53 89.37 L1056.51 87.32 L1057.49 88.39 L1058.48 86.43 L1059.46 85.6 L1060.44 86.43 L1061.43 86.33 L1062.41 88.39 L1063.39 90.85 L1064.37 90.51 L1065.36 92.57 L1066.34 92.23 L1067.32 95.02 L1068.3 97.48 L1069.04 92.57 L1069.78 89.28 L1070.76 90.11 L1071.74 90.85 L1072.73 91.34 L1073.71 91.83 L1074.69 93.3 L1075.68 92.97 L1076.66 96.25 L1077.64 99.2 L1078.62 95.42 L1079.61 97.48 L1080.34 91.83 L1081.08 91.25 L1082.06 96.25 L1083.05 98.71 L1083.78 101.17 L1084.52 111 L1084.57 112.37 L1085.31 121.71 L1086.29 120.14 L1087.03 124.66 L1088.01 120.63 L1088.99 126.62 L1089.73 127.6 L1090.47 120.97 L1091.45 115.72 L1092.43 117.78 L1093.42 120.23 L1094.4 118.91 L1095.14 129.57 L1095.87 149.23 L1096.61 163.97 L1097.59 165.93 L1098.57 165.6 L1099.56 170.11 L1100.54 172.57 L1101.52 169.77 L1102.51 171.34 L1103.49 176.25 L1104.47 178.22 L1105.45 171.34 L1106.44 166.43 L1107.42 165.2 L1108.4 164.37 L1109.39 171.34 L1110.37 163.97 L1111.35 162.74 L1112.33 156.6 L1113.32 150.45 L1114.05 149.63 L1114.79 157.83 L1115.53 168.39 L1116.51 164.37 L1117.49 167.65 L1118.48 170.11 L1119.46 173.8 L1120.44 176.74 L1121.43 171.34 L1122.41 169.28 L1123.39 175.02 L1124.37 176.25 L1125.36 184.12 L1126.34 178.71 L1127.32 169.37 L1128.3 165.93 L1129.29 163.97 L1130.02 161.42 L1130.76 168.39 L1131.74 169.37 L1132.73 169.28 L1133.71 170.11 L1134.69 166.33 L1135.68 167.65 L1136.66 175.02 L1137.64 174.2 L1138.62 181.17 L1139.61 186.08 L1140.59 191.49 L1141.57 181.17 L1142.56 177.88 L1143.29 185.59 L1144.03 177.48 L1145.01 167.65 L1146 164.37 L1146.98 165.2 L1147.96 161.02 L1148.94 159.45 L1149.93 159.55 L1150.91 157.09 L1151.89 156.11 L1152.87 155.77 L1153.86 156.6 L1154.84 159.55 L1155.82 160.28 L1156.81 162 L1157.79 161.42 L1158.77 163.48 L1159.75 160.68 L1160.74 163.48 L1161.72 161.42 L1162.7 162 L1163.69 160.68 L1164.67 161.02 L1165.65 168.39 L1166.63 162.74 L1167.62 160.68 L1168.6 163.48 L1169.58 163.97 L1170.57 169.37 L1171.55 178.71 L1172.53 187.31 L1173.51 188.54 L1174.5 191 L1175.48 193.45 L1176.46 195.91 L1177.44 196.4 L1178.43 188.54 L1179.41 184.12 L1180.39 182.8 L1181.38 184.85 L1182.36 182.06 L1183.34 188.54 L1184.32 189.77 L1185.31 184.85 L1186.29 179.94 L1187.27 178.71 L1188.26 177.48 L1189.24 176.16 L1190.22 179.94 L1191.2 184.85 L1192.19 191 L1193.17 195.91 L1193.91 196.4 L1194.64 189.77 L1195.63 183.62 L1196.61 178.71 L1197.59 173.3 L1198.57 170.51 L1199.56 170.85 L1200.54 171.34 L1201.52 172.57 L1202.51 175.76 L1203.49 172.23 L1204.47 172.57 L1205.45 170.85 L1206.44 169.37 L1207.42 168.39 L1208.4 163.97 L1209.39 160.28 L1210.37 159.45 L1211.35 159.55 L1212.33 158.96 L1213.32 159.05 L1214.3 158.96 L1215.04 165.93 L1215.77 156.6 L1216.51 144.31 L1217.25 141.03 L1218.23 145.54 L1219.21 151.19 L1220.2 144.31 L1221.18 141.36 L1222.16 139.4 L1223.14 139.31 L1224.13 139.89 L1225.11 141.36 L1226.09 143.82 L1227.08 145.54 L1228.06 148.73 L1229.04 146.77 L1230.02 146.28 L1231.01 144.71 L1231.99 150.45 L1232.97 147.66 L1233.96 151.19 L1234.94 150.85 L1235.92 152.17 L1236.9 154.14 L1237.89 156.11 L1238.87 157.83 L1239.85 159.05 L1240.59 163.97 L1241.33 169.37 L1242.06 165.2 L1242.8 163.14 L1243.54 171.83 L1244.28 176.25 L1245.01 172.97 L1245.69 185 L1246.43 192.37 L1247.16 194.34 L1248.15 191.14 L1249.13 190.31 L1250.11 194.83 L1251.1 199.74 L1252.08 195.72 L1253.06 196.06 L1254.04 189.91 L1255.03 187.46 L1255.76 185.4 L1256.5 191.14 L1257.24 198.51 L1257.98 192.77 L1258.96 194.83 L1259.94 196.79 L1260.92 202.2 L1261.91 205.88 L1262.89 209.57 L1263.87 210.8 L1264.61 208.34 L1265.1 197.69 L1265.84 207.11 L1266.57 214.48 L1267.31 198.91 L1268.05 203.43 L1268.79 215.71 L1269.52 200.14 L1270.26 209.57 L1271 198.91 L1271.73 214.48 L1272.47 216.94 L1273.21 234.14 L1273.95 256.25 L1274.68 273.45 L1275.42 258.71 L1276.4 250.11 L1277.39 246.92 L1278.12 246.83 L1278.86 255.02 L1279.6 258.71 L1280.58 263.62 L1281.56 264.12 L1282.55 259.94 L1283.53 256.65 L1284.51 258.22 L1285.49 256.16 L1286.48 256.74 L1287.21 268.54 L1287.95 266.08 L1288.69 258.71 L1289.67 256.25 L1290.65 252.57 L1291.64 250.51 L1292.62 251.83 L1293.6 251.74 L1294.58 255.02 L1295.32 252.97 L1296.06 258.71 L1296.8 254.2 L1297.53 257.48 L1298.27 255.42 L1299.01 259.94 L1299.74 255.42 L1300.48 258.71 L1301.22 256.65 L1301.96 261.66 L1302.69 258.71 L1303.68 258.22 L1304.66 256.25 L1305.64 253.8 L1306.62 252.57 L1307.61 251.34 L1308.34 251.25 L1309.08 255.02 L1309.82 263.62 L1310.56 268.54 L1311.54 272.22 L1312.28 275.91 L1313.01 269.77 L1313.75 264.85 L1314.49 263.53 L1315.22 264.12 L1315.96 257.48 L1316.7 251.34 L1317.43 250.51 L1318.17 258.71 L1318.91 268.54 L1319.4 273.94 L1320.14 264.02 L1320.87 269.03 L1321.61 261.17 L1322.35 258.71 L1323.33 253.8 L1324.31 250.11 L1325.3 243.97 L1326.28 240.28 L1327.02 236.51 L1327.75 243.97 L1328.49 253.8 L1329.23 261.17 L1330.21 264.85 L1331.19 263.13 L1332.18 259.94 L1333.16 257.48 L1334.14 255.76 L1335.13 255.02 L1336.11 253.8 L1337.09 252.57 L1338.07 251.74 L1339.06 251.83 L1340.04 250.51 L1341.02 250.85 L1342 253.8 L1342.99 256.25 L1343.97 258.71 L1344.95 256.25 L1345.94 253.3 L1346.92 251.83 L1347.9 249.37 L1348.88 249.28 L1349.87 250.85 L1350.85 251.34 L1351.83 251.83 L1352.82 253.3 L1353.8 253.8 L1354.78 255.02 L1355.76 256.74 L1356.75 258.71 L1357.73 261.17 L1358.71 266.08 L1359.7 263.13 L1360.68 259.94 L1361.66 257.48 L1362.64 256.65 L1363.63 259.2 L1364.61 259.94 L1365.59 257.88 L1366.57 258.71 L1367.56 258.62 L1368.54 259.94 L1369.52 259.6 L1370.51 260.68 L1371.49 259.94 L1372.47 257.14 L1373.45 258.22 L1374.44 257.88 L1375.42 258.22 L1376.4 256.65 L1377.39 257.48 L1378.37 256.74 L1379.35 256.25 L1380.33 256.16 L1381.32 256.74 L1382.3 257.48 L1383.28 256.25 L1384.27 255.02 L1385.25 253.8 L1385.99 249.77 L1386.72 251.34 L1387.71 253.8 L1388.69 251.34 L1389.67 249.37 L1390.65 247.32 L1391.39 249.37 L1392.13 253.8 L1393.11 255.02 L1394.09 258.71 L1395.08 256.25 L1396.06 256.16 L1397.04 257.48 L1398.02 257.14 L1399.01 258.22 L1399.99 257.88 L1400.97 258.71 L1401.96 257.88 L1402.94 259.94 L1403.92 261.17 L1404.9 258.71 L1405.89 257.48 L1406.87 256.25 L1407.85 255.02 L1408.84 254.2 L1409.82 255.76 L1410.8 254.69 L1411.78 256.25 L1412.77 255.42 L1413.75 258.71 L1414.73 259.94 L1415.47 261.17 L1416.21 257.48 L1416.94 257.14 L1417.68 259.2 L1418.42 256.25 L1419.4 252.57 L1420.38 249.37 L1421.37 246.43 L1422.35 243.97 L1423.33 241.02 L1424.31 237.83 L1425.3 235.37 L1426.28 235.03 L1427.26 236.6 L1428.25 236.51 L1429.23 237.09 L1430.21 232.91 L1431.19 232.08 L1432.18 232.17 L1433.16 226.77 L1434.14 221.03 L1435.13 221.36 L1436.11 219.4 L1436.85 209.57 L1437.58 198.28 L1438.32 192.14 L1439.06 187.22 L1440.04 183.54 L1441.27 181.57 L1442.5 179.85 L1443.48 179.52 L1444.22 183.54 L1445.2 188.94 L1446.18 190.91 L1447.16 192.87 L1448.15 192.14 L1449.13 190.82 L1450.11 192.87 L1451.1 191.8 L1452.08 194.59 L1453.06 192.54 L1454.04 193.86 L1455.03 195.82 L1456.01 197.05 L1456.99 192.87 L1457.73 186 L1458.47 181.48 L1459.45 182.31 L1460.43 183.54 L1461.42 181.48 L1462.4 182.31 L1463.38 180.99 L1464.36 186 L1465.35 184.77 L1466.33 182.31 L1467.31 177.06 L1468.05 187.22 L1468.79 183.54 L1469.52 179.85 L1470.32 145 L1471.3 137.43 L1472.29 131.93 L1473.07 131.64 L1473.76 134.48 L1474.45 136.94 L1475.53 136.45 L1476.22 136.65 L1476.9 139.4 L1477.49 142.84 L1477.99 138.42 L1478.67 133.5 L1479.66 131.15 L1480.64 132.03 L1481.62 131.54 L1482.6 131.04 L1483.39 126.13 L1484.08 123.87 L1485.06 124.07 L1486.04 125.15 L1487.03 126.13 L1488.01 128.59 L1488.99 130.06 L1489.98 127.11 L1490.96 124.16 L1491.65 123.58 L1492.43 123.87 L1493.22 127.11 L1493.91 122.69 L1494.4 117.78 L1495.09 115.42 L1495.68 115.42 L1496.36 116.6 L1497.05 118.27 L1497.84 118.76 L1498.62 119.74 L1499.31 119.94 L1499.8 122.2 L1500.49 123.18 L1501.08 122.11 L1501.77 124.16 L1502.46 126.13 L1503.24 128.59 L1503.93 131.04 L1504.72 133.5 L1505.7 133.99 L1506.68 134.48 L1507.67 133.5 L1508.45 133.41 L1508.94 135.47 L1509.63 138.91 L1510.32 141.86 L1511.11 144.31 L1512.03 151.6 L1512.77 158.97 L1513.5 165.11 L1514.49 163.39 L1515.47 161.92 L1516.45 160.93 L1517.43 158.97 L1518.42 158.48 L1519.4 157.4 L1520.14 158.48 L1520.87 150.37 L1521.61 149.05 L1522.35 156.51 L1523.09 152.83 L1523.82 145.45 L1524.56 143.4 L1525.3 155.28 L1526.28 157.74 L1527.26 157.4 L1528.25 162.65 L1528.98 158.97 L1529.72 152.83 L1530.7 149.14 L1532.24 139.4 L1533.22 132.52 L1534.2 125.64 L1534.89 121.71 L1535.68 119.74 L1536.36 116.2 L1536.95 115.42 L1537.64 115.42 L1538.13 117.78 L1538.82 121.71 L1539.61 126.13 L1540.39 130.55 L1541.08 133.5 L1541.87 133.99 L1542.56 133.01 L1543.34 131.54 L1544.03 131.44 L1544.52 133.5 L1545.21 129.57 L1546 124.66 L1546.68 120.72 L1547.27 118.66 L1547.96 118.67 L1548.45 119.74 L1548.94 122.2 L1549.63 121.62 L1550.22 124.16 L1550.91 121.12 L1551.4 126.13 L1551.89 128.59 L1552.38 123.18 L1552.87 118.27 L1553.37 119.74 L1553.86 125.64 L1554.35 118.17 L1555.04 117.29 L1555.63 117.29 L1556.31 118.27 L1557 120.72 L1557.79 123.18 L1558.57 123.67" fill="none" stroke="#089981" stroke-width="2" stroke-linejoin="round" stroke-linecap="round"/>
</g>
<text y="65.7" class="ax"><tspan x="1573.7">2.33 </tspan><tspan x="1598.8">T</tspan></text>
<text y="99.8" class="ax"><tspan x="1573.7">2.3 </tspan><tspan x="1592.2">T</tspan></text>
<text y="168.1" class="ax"><tspan x="1573.7">2.25 </tspan><tspan x="1598.8">T</tspan></text>
<text y="202.3" class="ax"><tspan x="1573.7">2.23 </tspan><tspan x="1598.8">T</tspan></text>
<text y="236.5" class="ax"><tspan x="1573.7">2.2 </tspan><tspan x="1592.2">T</tspan></text>
<text y="270.6" class="ax"><tspan x="1573.7">2.17 </tspan><tspan x="1598.8">T</tspan></text>
<text y="304.8" class="ax"><tspan x="1573.7">2.15 </tspan><tspan x="1598.8">T</tspan></text>
<path d="M1564 117H1609.7a2 2 0 0 1 2 2V131.8a2 2 0 0 1 -2 2H1564Z" fill="#089981"/>
<text y="129.9" class="badge"><tspan x="1573.7">2.28 </tspan><tspan x="1598.8">T</tspan></text>
<text x="49.9" y="336.9" class="ax" text-anchor="middle">2</text>
<text x="152.3" y="336.9" class="ax" text-anchor="middle">4</text>
<text x="254.6" y="336.9" class="ax" text-anchor="middle">6</text>
<text x="357.0" y="336.9" class="ax" text-anchor="middle">8</text>
<text x="459.3" y="336.9" class="ax" text-anchor="middle">10</text>
<text x="561.7" y="336.9" class="ax" text-anchor="middle">12</text>
<text x="664.1" y="336.9" class="ax" text-anchor="middle">14</text>
<text x="766.4" y="336.9" class="ax" text-anchor="middle">16</text>
<text x="868.8" y="336.9" class="ax" text-anchor="middle">18</text>
<text x="971.1" y="336.9" class="ax" text-anchor="middle">20</text>
<text x="1073.5" y="336.9" class="ax" text-anchor="middle">22</text>
<text x="1175.9" y="336.9" class="ax" text-anchor="middle">24</text>
<text x="1278.2" y="336.9" class="ax" text-anchor="middle">26</text>
<text x="1380.6" y="336.9" class="ax" text-anchor="middle">28</text>
<text x="1534" y="336.9" class="ax" text-anchor="middle">Oct</text>
<g transform="translate(11.9 365.8) scale(0.841 0.822)" fill="#141414">
<path d="M14 22H7V11H0V4h14v18zM28 22h-8l7.5-18h8L28 22z"/>
<circle cx="20" cy="8" r="4"/>
</g>
<text x="49 59.3 66.6 79.4 92.3 97.6 109.9 120.9 135.5 141.8 153.2" y="383.9" class="logo">TradingView</text>
</svg>
</body>
</html>
